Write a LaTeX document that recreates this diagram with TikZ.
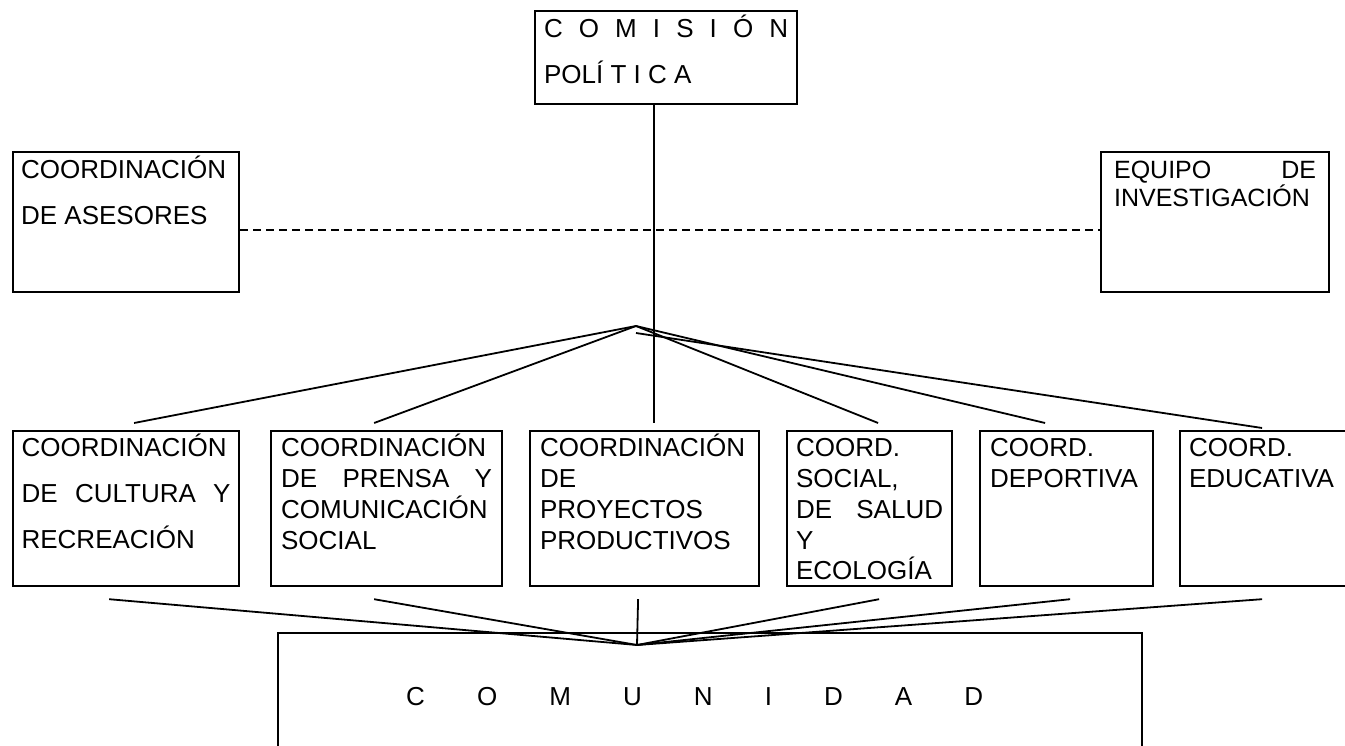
\documentclass[tikz,border=0pt]{standalone}
\usepackage{fontspec}
\setmainfont{Liberation Sans}
\begin{document}
\begin{tikzpicture}[x={(1pt,0)}, y={(0,-1pt)}]
    \tikzstyle{org box}=[draw,line width=2.2pt,inner xsep=9pt,inner ysep=0pt,anchor=north west,font=\fontsize{26}{30.8}\selectfont]
    \tikzstyle{wide lines}=[font=\fontsize{26}{46}\selectfont]
    \tikzstyle{fan}=[line width=1.8pt]
    \useasboundingbox (0,0) rectangle (1345,746);

    \node[org box,wide lines](comision) at (534,10)
        {\parbox[c][93pt][t]{244pt}{\rule{0pt}{26pt}C\hfill O\hfill M\hfill I\hfill S\hfill I\hfill Ó\hfill N\\ POLÍ T I C A}};
    \node[org box,wide lines,inner xsep=8pt](asesores) at (12,151)
        {\parbox[c][140pt][t]{210pt}{\rule{0pt}{26pt}COORDINACIÓN\\ DE ASESORES}};
    \node[org box,inner xsep=13pt,font=\fontsize{25}{28.5}\selectfont](equipo) at (1100,151)
        {\parbox[c][140pt][t]{202pt}{\rule{0pt}{26pt}EQUIPO\hfill DE\\ INVESTIGACIÓN}};

    \node[org box,wide lines,inner xsep=8.5pt](cultura) at (12,430)
        {\parbox[c][155pt][t]{209pt}{\rule{0pt}{25.5pt}COORDINACIÓN\\ DE\hfill CULTURA\hfill Y\\ RECREACIÓN}};
    \node[org box,inner xsep=10pt](prensa) at (270,430)
        {\parbox[c][155pt][t]{211pt}{\rule{0pt}{25.5pt}COORDINACIÓN\\ DE\hfill PRENSA\hfill Y\\ COMUNICACIÓN\\ SOCIAL}};
    \node[org box,inner xsep=10pt](proyectos) at (529,430)
        {\parbox[c][155pt][t]{209pt}{\rule{0pt}{25.5pt}COORDINACIÓN\\ DE\\ PROYECTOS\\ PRODUCTIVOS}};
    \node[org box](salud) at (786,430)
        {\parbox[c][155pt][t]{147pt}{\rule{0pt}{25.5pt}COORD.\\ SOCIAL,\\ DE\hfill SALUD\\ Y\\ ECOLOGÍA}};
    \node[org box,inner xsep=10pt](deportiva) at (979,430)
        {\parbox[c][155pt][t]{153pt}{\rule{0pt}{25.5pt}COORD.\\ DEPORTIVA}};
    \node[org box](educativa) at (1179,430)
        {\parbox[c][155pt][t]{150pt}{\rule{0pt}{25.5pt}COORD.\\ EDUCATIVA}};

    \node[org box,minimum width=864pt,minimum height=128pt](comunidad) at (277,632){};
    \node[anchor=base west,inner sep=0pt,font=\fontsize{26}{30.8}\selectfont](comunidad text) at (406,705)
        {\hbox to 577pt{C\hfill O\hfill M\hfill U\hfill N\hfill I\hfill D\hfill A\hfill D}};

    \coordinate(top fan) at (636,326);
    \coordinate(top fan low) at (636,333);
    \coordinate(bottom fan) at (637,645);

    \draw[fan,dash pattern=on 8pt off 5pt]([yshift=-8pt]asesores.east)--([yshift=-8pt]equipo.west);
    \draw[fan]([xshift=-12pt]comision.south)--([xshift=9.5pt,yshift=7pt]proyectos.north);
    \draw[fan](top fan)--([xshift=8pt,yshift=7pt]cultura.north);
    \draw[fan](top fan)--([xshift=-12.5pt,yshift=7pt]prensa.north);
    \draw[fan](top fan)--([xshift=8.5pt,yshift=7pt]salud.north);
    \draw[fan](top fan)--([xshift=-21.5pt,yshift=7pt]deportiva.north);
    \draw[fan](top fan low)--([xshift=-2pt,yshift=2pt]educativa.north);

    \draw[fan]([xshift=-17pt,yshift=-12pt]cultura.south)--(bottom fan);
    \draw[fan]([xshift=-12.5pt,yshift=-12pt]prensa.south)--(bottom fan);
    \draw[fan]([xshift=-6.5pt,yshift=-12pt]proyectos.south)--(bottom fan);
    \draw[fan]([xshift=9.5pt,yshift=-12pt]salud.south)--(bottom fan);
    \draw[fan]([xshift=3.5pt,yshift=-12pt]deportiva.south)--(bottom fan);
    \draw[fan]([xshift=-2pt,yshift=-12pt]educativa.south)--(bottom fan);
\end{tikzpicture}
\end{document}
